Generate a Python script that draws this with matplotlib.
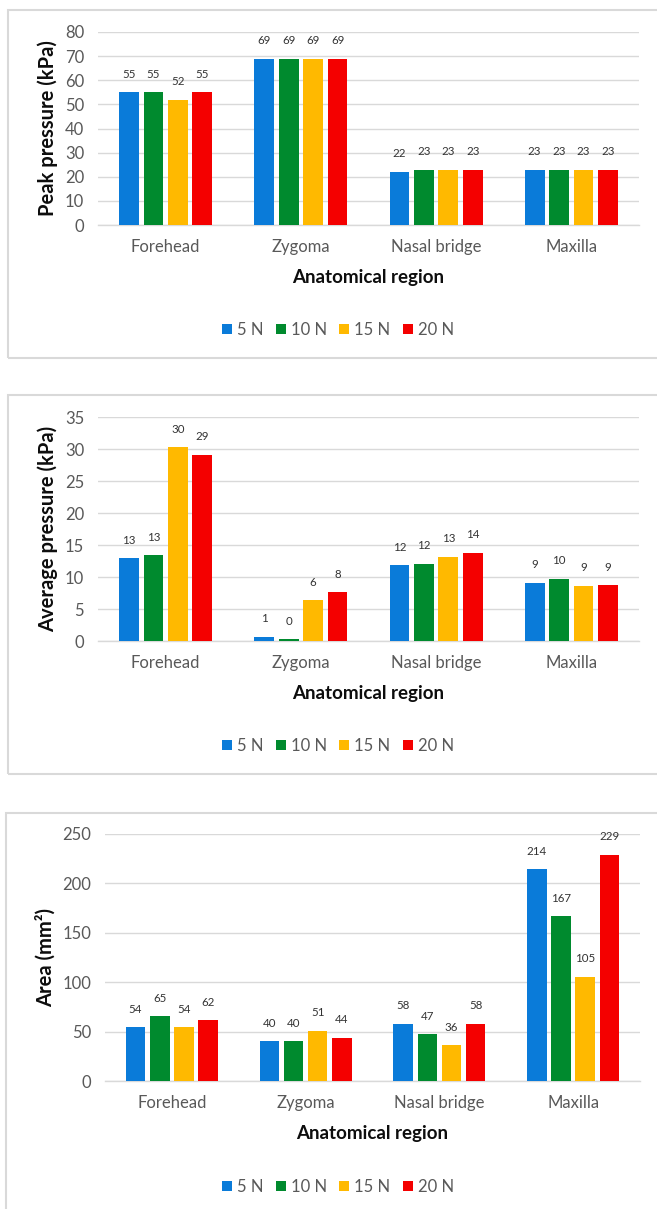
import matplotlib
matplotlib.use("Agg")
import matplotlib.pyplot as plt
from matplotlib.patches import Rectangle, Patch
import numpy as np

plt.rcParams['font.family'] = ['Lato', 'DejaVu Sans']

categories = ["Forehead", "Zygoma", "Nasal bridge", "Maxilla"]
series_names = ["5 N", "10 N", "15 N", "20 N"]
colors = ["#0A7BD9", "#008A2E", "#FFB900", "#F40000"]

peak_5N = [55, 69, 22, 23]
peak_10N = [55, 69, 23, 23]
peak_15N = [52, 69, 23, 23]
peak_20N = [55, 69, 23, 23]

avg_5N = [12.9, 0.7, 11.8, 9.1]
avg_10N = [13.4, 0.25, 12.1, 9.7]
avg_15N = [30.3, 6.4, 13.2, 8.6]
avg_20N = [29.1, 7.6, 13.8, 8.7]

area_5N = [54.4, 40.2, 58.0, 214.3]
area_10N = [65.4, 40.0, 47.2, 167.0]
area_15N = [54.4, 50.8, 36.4, 105.4]
area_20N = [61.6, 43.6, 58.0, 229.0]

peak_ticks = [0, 10, 20, 30, 40, 50, 60, 70, 80]
avg_ticks = [0, 5, 10, 15, 20, 25, 30, 35]
area_ticks = [0, 50, 100, 150, 200, 250]

W, H = 657, 1209
fig = plt.figure(figsize=(W / 100, H / 100), dpi=100)

GRID = "#D9D9D9"
TXT = "#595959"


def fx(px):
    return px / W


def fy(py):
    return 1 - py / H


def panel(box, ax_px, series, ticks, ylabel, ylab_x, xlab_y, leg_y):
    l, t, b = box
    fig.add_artist(Rectangle((fx(l), fy(b)), fx(W + 20 - l), fy(t) - fy(b),
                             transform=fig.transFigure, fill=False,
                             edgecolor=GRID, linewidth=1.5))
    x0, x1, y0, y1 = ax_px
    ax = fig.add_axes([fx(x0), fy(y0), fx(x1 - x0), fy(y1) - fy(y0)])
    x = np.arange(len(categories))
    step, width = 0.181, 0.146
    for j, vals in enumerate(series):
        bars = ax.bar(x + (j - 1.5) * step, vals, width, color=colors[j],
                      linewidth=0, zorder=3)
        ax.bar_label(bars, labels=[f"{v:.0f}" for v in vals], padding=9,
                     fontsize=8.3, color="#333333")
    ax.set_xlim(-0.5, len(categories) - 0.5)
    ax.set_ylim(ticks[0], ticks[-1])
    ax.set_yticks(ticks)
    ax.set_yticklabels([str(t) for t in ticks])
    ax.set_xticks(x)
    ax.set_xticklabels(categories)
    ax.yaxis.grid(True, color=GRID, linewidth=1.0, zorder=0)
    ax.set_axisbelow(True)
    for s in ["top", "right", "left"]:
        ax.spines[s].set_visible(False)
    ax.spines["bottom"].set_color(GRID)
    ax.spines["bottom"].set_linewidth(1.0)
    ax.tick_params(axis="both", length=0, labelsize=12, labelcolor=TXT)
    ax.tick_params(axis="y", pad=10)
    ax.tick_params(axis="x", pad=10)
    ax.set_ylabel(ylabel, fontsize=14.5, fontweight="bold", color="#0D0D0D")
    ax.yaxis.label.set_va("center")
    ax.yaxis.set_label_coords((ylab_x - x0) / (x1 - x0), 0.5)
    ax.set_xlabel("Anatomical region", fontsize=13.5, fontweight="bold",
                  color="#0D0D0D")
    ax.xaxis.label.set_va("center")
    ax.xaxis.set_label_coords(0.5, (y0 - xlab_y) / (y0 - y1))
    handles = [Patch(facecolor=c, edgecolor="none") for c in colors]
    fig.legend(handles, series_names, loc="center",
               bbox_to_anchor=(fx(338), fy(leg_y)), ncol=4, frameon=False,
               fontsize=12, labelcolor=TXT, handlelength=0.6,
               handleheight=0.6, handletextpad=0.3, columnspacing=0.75)
    return ax


panel((8, 10, 358), (98, 639, 225, 32),
      [peak_5N, peak_10N, peak_15N, peak_20N], peak_ticks,
      "Peak pressure (kPa)", 48, 277, 330)
panel((8, 395, 774), (98, 639, 641, 417),
      [avg_5N, avg_10N, avg_15N, avg_20N], avg_ticks,
      "Average pressure (kPa)", 48, 693, 746)
panel((6, 813, 1240), (105, 640, 1081, 834),
      [area_5N, area_10N, area_15N, area_20N], area_ticks,
      "Area (mm²)", 46, 1133, 1187)

fig.savefig("out.png", dpi=100)
